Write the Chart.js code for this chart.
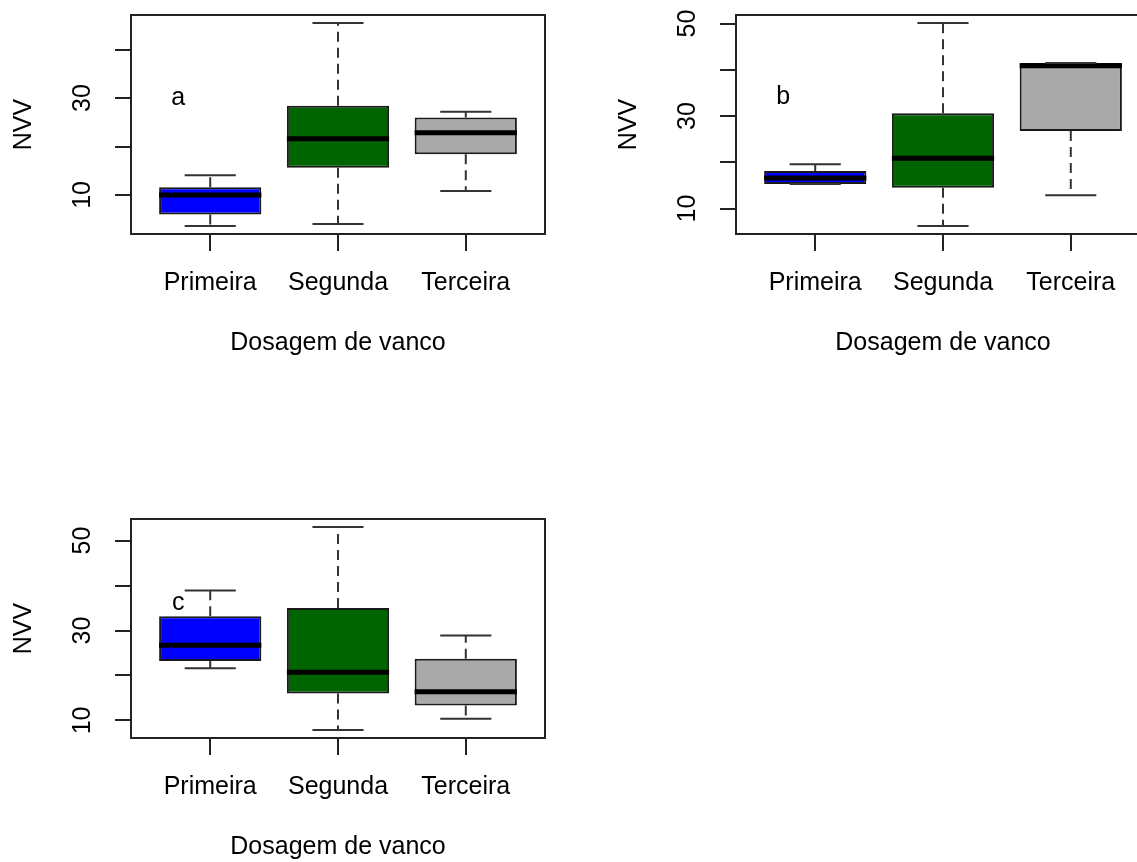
<!DOCTYPE html>
<html lang="pt">
<head>
<meta charset="UTF-8">
<title>NVV por dosagem de vanco</title>
<style>
    html, body { margin: 0; padding: 0; background: #fff; overflow: hidden; }
    body { width: 1137px; height: 862px; position: relative; }
    .painel { position: absolute; width: 560px; height: 358px; }
    #painelA { left: 0; top: 0; }
    #painelB { left: 605px; top: 0; }
    #painelC { left: 0; top: 504px; }
</style>
</head>
<body>

<div class="painel" id="painelA"><canvas id="graficoA" width="560" height="358"></canvas></div>
<div class="painel" id="painelB"><canvas id="graficoB" width="560" height="358"></canvas></div>
<div class="painel" id="painelC"><canvas id="graficoC" width="560" height="358"></canvas></div>

<script src="https://cdn.jsdelivr.net/npm/chart.js"></script>
<script>
    const categorias = ['Primeira', 'Segunda', 'Terceira'];
    const posicoes = [1, 2, 3];
    const cores = ['#0000FF', '#006400', '#A9A9A9'];

    // painel a: minimo, q1, mediana, q3, maximo de cada dosagem
    const minimoA = [3.6, 4.0, 10.8];
    const q1A = [5.95, 15.6, 18.4];
    const medianaA = [10.0, 21.6, 22.85];
    const q3A = [11.6, 28.4, 26.0];
    const maximoA = [14.05, 45.5, 27.2];

    // painel b
    const minimoB = [15.3, 6.25, 12.9];
    const q1B = [15.3, 14.5, 26.75];
    const medianaB = [16.6, 20.9, 40.9];
    const q3B = [18.1, 30.6, 41.5];
    const maximoB = [19.6, 50.1, 41.5];

    // painel c
    const minimoC = [21.6, 7.9, 10.4];
    const q1C = [23.2, 16.0, 13.3];
    const medianaC = [26.7, 20.7, 16.4];
    const q3C = [33.2, 35.0, 23.7];
    const maximoC = [38.9, 53.0, 28.9];

    const yTicksA = [10, 20, 30, 40];
    const yRotulosA = ['10', '', '30', ''];
    const yTicksBC = [10, 20, 30, 40, 50];
    const yRotulosBC = ['10', '', '30', '', '50'];

    const letras = ['a', 'b', 'c'];
    const letraX = [0.75, 0.75, 0.75];
    const letraY = [30, 34, 36];

    const fonte = { family: '"Liberation Sans", Arial, sans-serif', size: 25 };

    // moldura do grafico, rotulos do eixo y girados e a letra do painel
    const molduraERotulos = {
        id: 'molduraERotulos',
        beforeDatasetsDraw(chart) {
            const { ctx, chartArea: a } = chart;
            ctx.save();
            ctx.strokeStyle = '#222';
            ctx.lineWidth = 2;
            ctx.strokeRect(a.left, a.top, a.right - a.left, a.bottom - a.top);
            ctx.restore();
        },
        afterDraw(chart, args, opts) {
            const { ctx, scales: { x, y } } = chart;
            ctx.save();
            ctx.fillStyle = '#000';
            ctx.font = fonte.size + 'px ' + fonte.family;
            ctx.textAlign = 'center';
            ctx.textBaseline = 'middle';
            opts.ticks.forEach((v, i) => {
                if (!opts.rotulos[i]) return;
                ctx.save();
                ctx.translate(y.left + 83, y.getPixelForValue(v));
                ctx.rotate(-Math.PI / 2);
                ctx.fillText(opts.rotulos[i], 0, 0);
                ctx.restore();
            });
            ctx.fillText(opts.letra, x.getPixelForValue(opts.letraX), y.getPixelForValue(opts.letraY));
            ctx.restore();
        }
    };

    function boxplot(id, minimo, q1, mediana, q3, maximo, yTicks, yRotulos, n) {
        const menor = Math.min(...minimo);
        const maior = Math.max(...maximo);
        const folga = (maior - menor) * 0.04;

        const caixas = posicoes.map((p, i) => ({ x: p, y: [q1[i], q3[i]] }));
        const medianas = [];
        const bigodes = [];
        const hastes = [];
        posicoes.forEach((p, i) => {
            medianas.push({ x: p - 0.4, y: mediana[i] }, { x: p + 0.4, y: mediana[i] }, { x: p, y: null });
            bigodes.push({ x: p, y: q3[i] }, { x: p, y: maximo[i] }, { x: p, y: null },
                         { x: p, y: q1[i] }, { x: p, y: minimo[i] }, { x: p, y: null });
            hastes.push({ x: p - 0.2, y: maximo[i] }, { x: p + 0.2, y: maximo[i] }, { x: p, y: null },
                        { x: p - 0.2, y: minimo[i] }, { x: p + 0.2, y: minimo[i] }, { x: p, y: null });
        });

        const linha = {
            type: 'line', pointRadius: 0, fill: false, tension: 0,
            spanGaps: false, order: 1, borderCapStyle: 'butt'
        };

        new Chart(document.getElementById(id), {
            type: 'bar',
            data: {
                datasets: [
                    {
                        data: caixas,
                        backgroundColor: cores,
                        borderColor: '#1a1a1a',
                        borderWidth: 2,
                        borderSkipped: false,
                        barPercentage: 0.8,
                        categoryPercentage: 1.0,
                        order: 2
                    },
                    Object.assign({}, linha, { data: bigodes, borderColor: '#333', borderWidth: 2, borderDash: [10, 6] }),
                    Object.assign({}, linha, { data: hastes, borderColor: '#333', borderWidth: 2 }),
                    Object.assign({}, linha, { data: medianas, borderColor: '#000', borderWidth: 5 })
                ]
            },
            options: {
                responsive: false,
                animation: false,
                events: [],
                layout: { padding: { top: 15, right: 15, left: 0, bottom: 0 } },
                plugins: {
                    legend: { display: false },
                    tooltip: { enabled: false },
                    molduraERotulos: {
                        ticks: yTicks, rotulos: yRotulos,
                        letra: letras[n], letraX: letraX[n], letraY: letraY[n]
                    }
                },
                scales: {
                    x: {
                        type: 'linear',
                        min: 0.38,
                        max: 3.62,
                        offset: false,
                        afterBuildTicks: s => { s.ticks = posicoes.map(v => ({ value: v })); },
                        afterFit: s => { s.height = 124; },
                        grid: {
                            drawOnChartArea: false, drawTicks: true, tickLength: 17,
                            color: '#222', lineWidth: 2, offset: false
                        },
                        border: { display: false },
                        ticks: {
                            callback: v => categorias[posicoes.indexOf(v)] || '',
                            font: fonte, color: '#000', padding: 17,
                            maxRotation: 0, autoSkip: false
                        },
                        title: { display: true, text: 'Dosagem de vanco', font: fonte, color: '#000', padding: 0 }
                    },
                    y: {
                        min: menor - folga,
                        max: maior + folga,
                        afterBuildTicks: s => { s.ticks = yTicks.map(v => ({ value: v })); },
                        afterFit: s => { s.width = 131; },
                        grid: {
                            drawOnChartArea: false, drawTicks: true, tickLength: 16,
                            color: '#222', lineWidth: 2
                        },
                        border: { display: false },
                        ticks: { display: false },
                        title: { display: true, text: 'NVV', font: fonte, color: '#000', padding: { top: 9, bottom: 0 } }
                    }
                }
            },
            plugins: [molduraERotulos]
        });
    }

    boxplot('graficoA', minimoA, q1A, medianaA, q3A, maximoA, yTicksA, yRotulosA, 0);
    boxplot('graficoB', minimoB, q1B, medianaB, q3B, maximoB, yTicksBC, yRotulosBC, 1);
    boxplot('graficoC', minimoC, q1C, medianaC, q3C, maximoC, yTicksBC, yRotulosBC, 2);
</script>

</body>
</html>
